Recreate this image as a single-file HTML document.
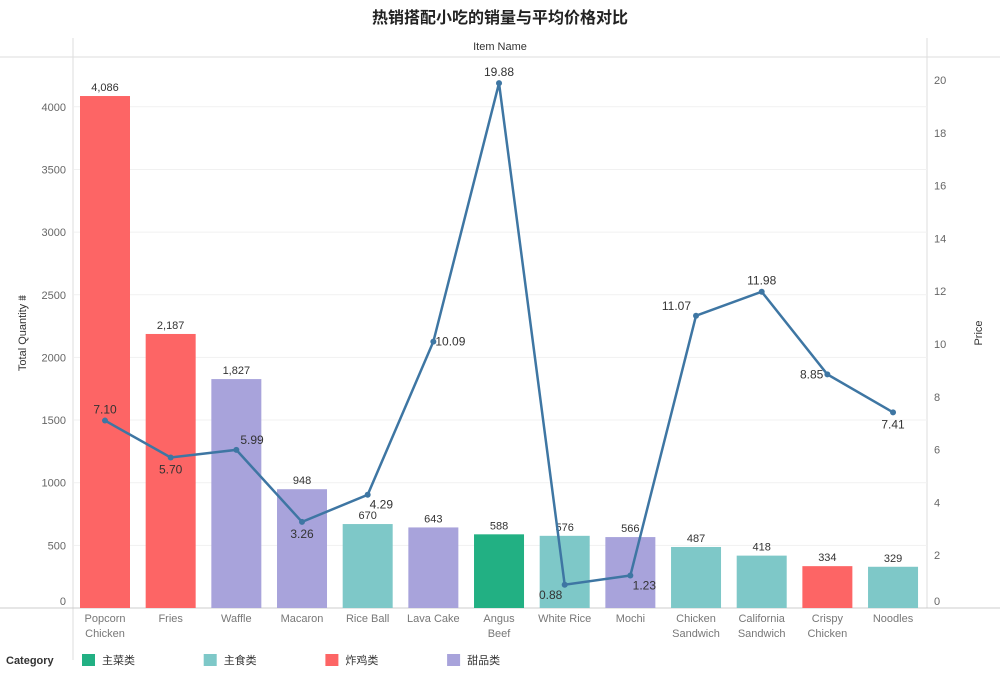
<!DOCTYPE html>
<html><head><meta charset="utf-8"><style>
body{margin:0;background:#fff;font-family:"Liberation Sans","Noto Sans CJK SC",sans-serif}
svg text{font-family:"Liberation Sans","Noto Sans CJK SC",sans-serif}
</style></head><body>
<svg id="c" width="1000" height="680">
<text x="500" y="23" text-anchor="middle" font-size="16" font-weight="bold" fill="#222">热销搭配小吃的销量与平均价格对比</text>
<line x1="0" y1="57" x2="1000" y2="57" stroke="#ddd"/>
<line x1="73" y1="38" x2="73" y2="660" stroke="#ddd"/>
<line x1="927" y1="38" x2="927" y2="608" stroke="#ddd"/>
<line x1="0" y1="608" x2="1000" y2="608" stroke="#ccc"/>
<text x="500" y="50" text-anchor="middle" font-size="11" fill="#333">Item Name</text>
<text transform="translate(26,333) rotate(-90)" text-anchor="middle" font-size="11" fill="#333">Total Quantity ⩩</text>
<text transform="translate(982,333) rotate(-90)" text-anchor="middle" font-size="11" fill="#333">Price</text>
<g id="grid"></g><g id="bars"></g><g id="line"></g><g id="legend"></g>
</svg>
<script>
const items=["Popcorn\nChicken","Fries","Waffle","Macaron","Rice Ball","Lava Cake","Angus\nBeef","White Rice","Mochi","Chicken\nSandwich","California\nSandwich","Crispy\nChicken","Noodles"];
const qty=[4086,2187,1827,948,670,643,588,576,566,487,418,334,329];
const price=[7.10,5.70,5.99,3.26,4.29,10.09,19.88,0.88,1.23,11.07,11.98,8.85,7.41];
const cats=["炸鸡类","炸鸡类","甜品类","甜品类","主食类","甜品类","主菜类","主食类","甜品类","主食类","主食类","炸鸡类","主食类"];
const leftTicks=[0,500,1000,1500,2000,2500,3000,3500,4000];
const rightTicks=[0,2,4,6,8,10,12,14,16,18,20];
const legendCats=["主菜类","主食类","炸鸡类","甜品类"];
const colors={"主菜类":"#22b083","主食类":"#7ec8c8","炸鸡类":"#fd6565","甜品类":"#a8a3db"};
const ns="http://www.w3.org/2000/svg";
const base=608;
const yL=v=>base-v*0.1253;
const yR=v=>base-v*26.4;
const xC=i=>105+i*65.67;
function mk(t,a,p,txt){const e=document.createElementNS(ns,t);for(const k in a)e.setAttribute(k,a[k]);if(txt!==undefined)e.textContent=txt;p.appendChild(e);return e;}
const G=document.getElementById('grid'),B=document.getElementById('bars'),L=document.getElementById('line'),LG=document.getElementById('legend');
leftTicks.forEach(v=>{
 if(v>0){const g=mk('line',{x1:74,x2:927,y1:yL(v),y2:yL(v),stroke:'#f1f1f1'},G);
 
 }
 const t=mk('text',{x:66,y:(v===0?601:yL(v))+4,'text-anchor':'end','font-size':11,fill:'#666'},G,v);
 
 
});
rightTicks.forEach(v=>{
 const t=mk('text',{x:934,y:(v===0?601:yR(v))+4,'font-size':11,fill:'#666'},G,v);
 
 
});
items.forEach((n,i)=>{
 const r=mk('rect',{x:xC(i)-25,y:yL(qty[i]),width:50,height:base-yL(qty[i]),fill:colors[cats[i]]},B);
 
 
 const t=mk('text',{x:xC(i),y:yL(qty[i])-5,'text-anchor':'middle','font-size':11,fill:'#333'},B,qty[i].toLocaleString('en-US'));
 
 
 n.split('\n').forEach((s,j)=>{
  const x=mk('text',{x:xC(i),y:622+j*15,'text-anchor':'middle','font-size':11,fill:'#777'},B,s);
  
  
 });
});
const pts=price.map((p,i)=>xC(i)+','+yR(p)).join(' ');
const pl=mk('polyline',{points:pts,fill:'none',stroke:'#3e76a3','stroke-width':2.5},L);


price.forEach((p,i)=>{
 const c=mk('circle',{cx:xC(i),cy:yR(p),r:3,fill:'#3e76a3'},L);
 
 
 const prev=price[i-1]??p,next=price[i+1]??p;
 let dy=-7,dx=0,anchor='middle';
 if(p<prev&&p<next){dy=16;}
 if(i===0){dy=-7;}
 if(i===1||i===3){dy=16;}
 if(i===2||i===4){dx=4;anchor='start';dy=-6;}
 if(i===4){dy=14;dx=2;}
 if(i===5){dx=2;anchor='start';dy=4;}
 if(i===7){dy=14;dx=-14;}
 if(i===8){dy=14;dx=14;}
 if(i===9){dx=-5;anchor='end';dy=-6;}
 if(i===11){dx=-4;anchor='end';dy=4;}
 if(i===12){dy=16;}
 const t=mk('text',{x:xC(i)+dx,y:yR(p)+dy,'text-anchor':anchor,'font-size':12,fill:'#333'},L,p.toFixed(2));
 
 
});
const lt=mk('text',{x:6,y:664,'font-size':11,'font-weight':'bold',fill:'#333'},LG,'Category');


legendCats.forEach((c,i)=>{
 const x=82+i*121.7;
 const r=mk('rect',{x:x,y:654,width:13,height:12,fill:colors[c]},LG);
 
 
 const t=mk('text',{x:x+20,y:664,'font-size':11,fill:'#333'},LG,c);
 
 
});
</script>
</body></html>
